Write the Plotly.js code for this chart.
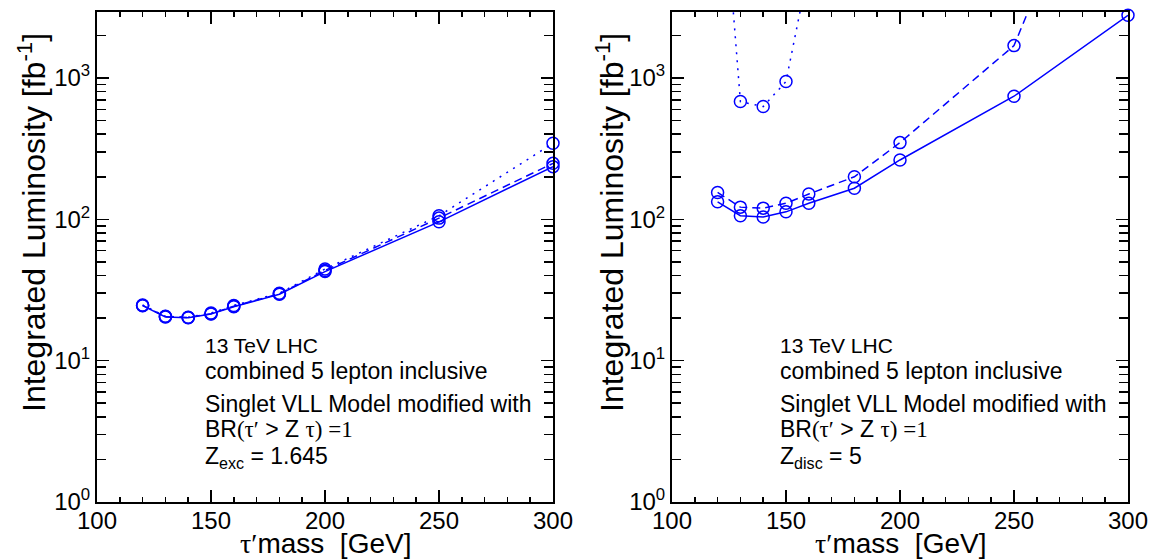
<!DOCTYPE html>
<html>
<head>
<meta charset="utf-8">
<script src="https://cdn.plot.ly/plotly-3.0.1.min.js"></script>
<style>html,body{margin:0;padding:0;background:#fff;}#plot{width:1155px;height:560px;}</style>
</head>
<body>
<div id="plot"></div>
<script>
// ---- data ----
const mass = [120, 130, 140, 150, 160, 180, 200, 250, 300];

// left panel: Z_exc = 1.645
const excSolid  = [24.5, 20.4, 20.1, 21.4, 24.1, 29.5, 42.7, 96, 236];
const excDashed = [24.6, 20.5, 20.2, 21.5, 24.3, 29.7, 43.5, 102, 249];
const excDotted = [24.8, 20.6, 20.3, 21.7, 24.6, 30.0, 44.5, 106, 345];

// right panel: Z_disc = 5
const discSolid  = [133, 106, 104, 113, 130, 166, 263, 743, 2780];
const discDashed = [155, 122, 120, 130, 151, 200, 349, 1695, 150000];
const discDotted = [75000, 681, 628, 944, 6000, null, null, null, null];

const yTickVals   = [1, 10, 100, 1000];
const yTickLabels = ['10<sup>0</sup>', '10<sup>1</sup>', '10<sup>2</sup>', '10<sup>3</sup>'];
const xTickLabels = ['100', '150', '200', '250', '300'];

const infoLines = ['13 TeV LHC', 'combined 5 lepton inclusive', 'Singlet VLL Model modified with'];
const brLine = 'BR<span style="font-family:\'Liberation Serif\'">(τ′</span> &gt; Z <span style="font-family:\'Liberation Serif\'">τ) =1</span>';
const zLeft  = 'Z<sub>exc</sub> = 1.645';
const zRight = 'Z<sub>disc</sub> = 5';
const yTitle = 'Integrated Luminosity [fb<sup>-1</sup>]';
const xTitle = '<span style="font-family:\'Liberation Serif\'">τ′</span>mass\u00a0\u00a0[GeV]';

// ---- styling ----
const BLUE = '#0000ff';
const FONT = 'Liberation Sans, Arial, sans-serif';
const dashes = {solid: 'solid', dashed: '8px,5px', dotted: '2px,6px'};

function tr(y, dash, xa, ya) {
  return {
    x: mass, y: y, xaxis: xa, yaxis: ya, type: 'scatter', mode: 'lines+markers',
    line: {color: BLUE, width: 1.5, dash: dash},
    marker: {symbol: 'circle-open', size: 12, color: BLUE, line: {color: BLUE, width: 1.5}},
    cliponaxis: false, connectgaps: false, showlegend: false, hoverinfo: 'x+y'
  };
}

const data = [
  tr(excSolid, dashes.solid, 'x', 'y'),
  tr(excDashed, dashes.dashed, 'x', 'y'),
  tr(excDotted, dashes.dotted, 'x', 'y'),
  tr(discSolid, dashes.solid, 'x2', 'y2'),
  tr(discDashed, dashes.dashed, 'x2', 'y2'),
  tr(discDotted, dashes.dotted, 'x2', 'y2')
];

// minor log ticks 2..9 per decade
const minorY = [];
for (let d = 0; d < 4; d++) for (let k = 2; k <= 9; k++) minorY.push(k * Math.pow(10, d));

function xax(domain, anchor) {
  return {
    domain: domain, anchor: anchor, range: [100, 300],
    tickmode: 'array', tickvals: xTickLabels.map(Number), ticktext: xTickLabels,
    ticks: 'inside', ticklen: 12, tickwidth: 1.5, tickcolor: '#000',
    ticklabelstandoff: -4,
    minor: {ticks: 'inside', ticklen: 5, tickwidth: 1.5, tickcolor: '#000', dtick: 10, tick0: 100, showgrid: false},
    showline: true, linecolor: '#000', linewidth: 2, mirror: 'allticks',
    showgrid: false, zeroline: false,
    tickfont: {family: FONT, size: 24, color: '#000'}
  };
}
function yax(anchor) {
  return {
    domain: [0, 1], anchor: anchor, type: 'log', range: [0, 3.467],
    tickmode: 'array', tickvals: yTickVals, ticktext: yTickLabels,
    ticks: 'inside', ticklen: 12, tickwidth: 1.5, tickcolor: '#000',
    minor: {ticks: 'inside', ticklen: 9, tickwidth: 1.5, tickcolor: '#000', tickmode: 'array', tickvals: minorY, showgrid: false},
    showline: true, linecolor: '#000', linewidth: 2, mirror: 'allticks',
    showgrid: false, zeroline: false,
    tickfont: {family: FONT, size: 24, color: '#000'}
  };
}

const annotations = [];
const lineY = [0.3184, 0.2673, 0.2000];
const lineSize = [21, 23, 23];
[0.1758, 0.6736].forEach((ax0, i) => {
  infoLines.forEach((t, j) => annotations.push({
    xref: 'paper', yref: 'paper', x: ax0, y: lineY[j], xanchor: 'left', yanchor: 'middle',
    text: t, showarrow: false, font: {family: FONT, size: lineSize[j], color: '#000'}
  }));
  annotations.push({xref: 'paper', yref: 'paper', x: ax0, y: 0.1490, xanchor: 'left', yanchor: 'middle',
    text: brLine, showarrow: false, font: {family: FONT, size: 23, color: '#000'}});
  annotations.push({xref: 'paper', yref: 'paper', x: ax0, y: 0.0900, xanchor: 'left', yanchor: 'middle',
    text: i === 0 ? zLeft : zRight, showarrow: false, font: {family: FONT, size: 23, color: '#000'}});
});
[0.0277, 0.5281].forEach(xx => annotations.push({
  xref: 'paper', yref: 'paper', x: xx, y: 0.5714, xanchor: 'center', yanchor: 'middle', textangle: -90,
  text: yTitle, showarrow: false, font: {family: FONT, size: 32, color: '#000'}
}));
[325 / 1155, 900 / 1155].forEach(xx => annotations.push({
  xref: 'paper', yref: 'paper', x: xx, y: -0.0857, xanchor: 'center', yanchor: 'middle',
  text: xTitle, showarrow: false, font: {family: FONT, size: 28, color: '#000'}
}));

const layout = {
  width: 1155, height: 560,
  margin: {l: 0, r: 0, t: 12, b: 58, pad: 0},
  paper_bgcolor: '#fff', plot_bgcolor: '#fff',
  font: {family: FONT, color: '#000'},
  xaxis: xax([97 / 1155, 553 / 1155], 'y'),
  yaxis: yax('x'),
  xaxis2: xax([672 / 1155, 1128 / 1155], 'y2'),
  yaxis2: yax('x2'),
  annotations: annotations,
  showlegend: false
};

Plotly.newPlot('plot', data, layout, {displayModeBar: false, staticPlot: true});
</script>
</body>
</html>
